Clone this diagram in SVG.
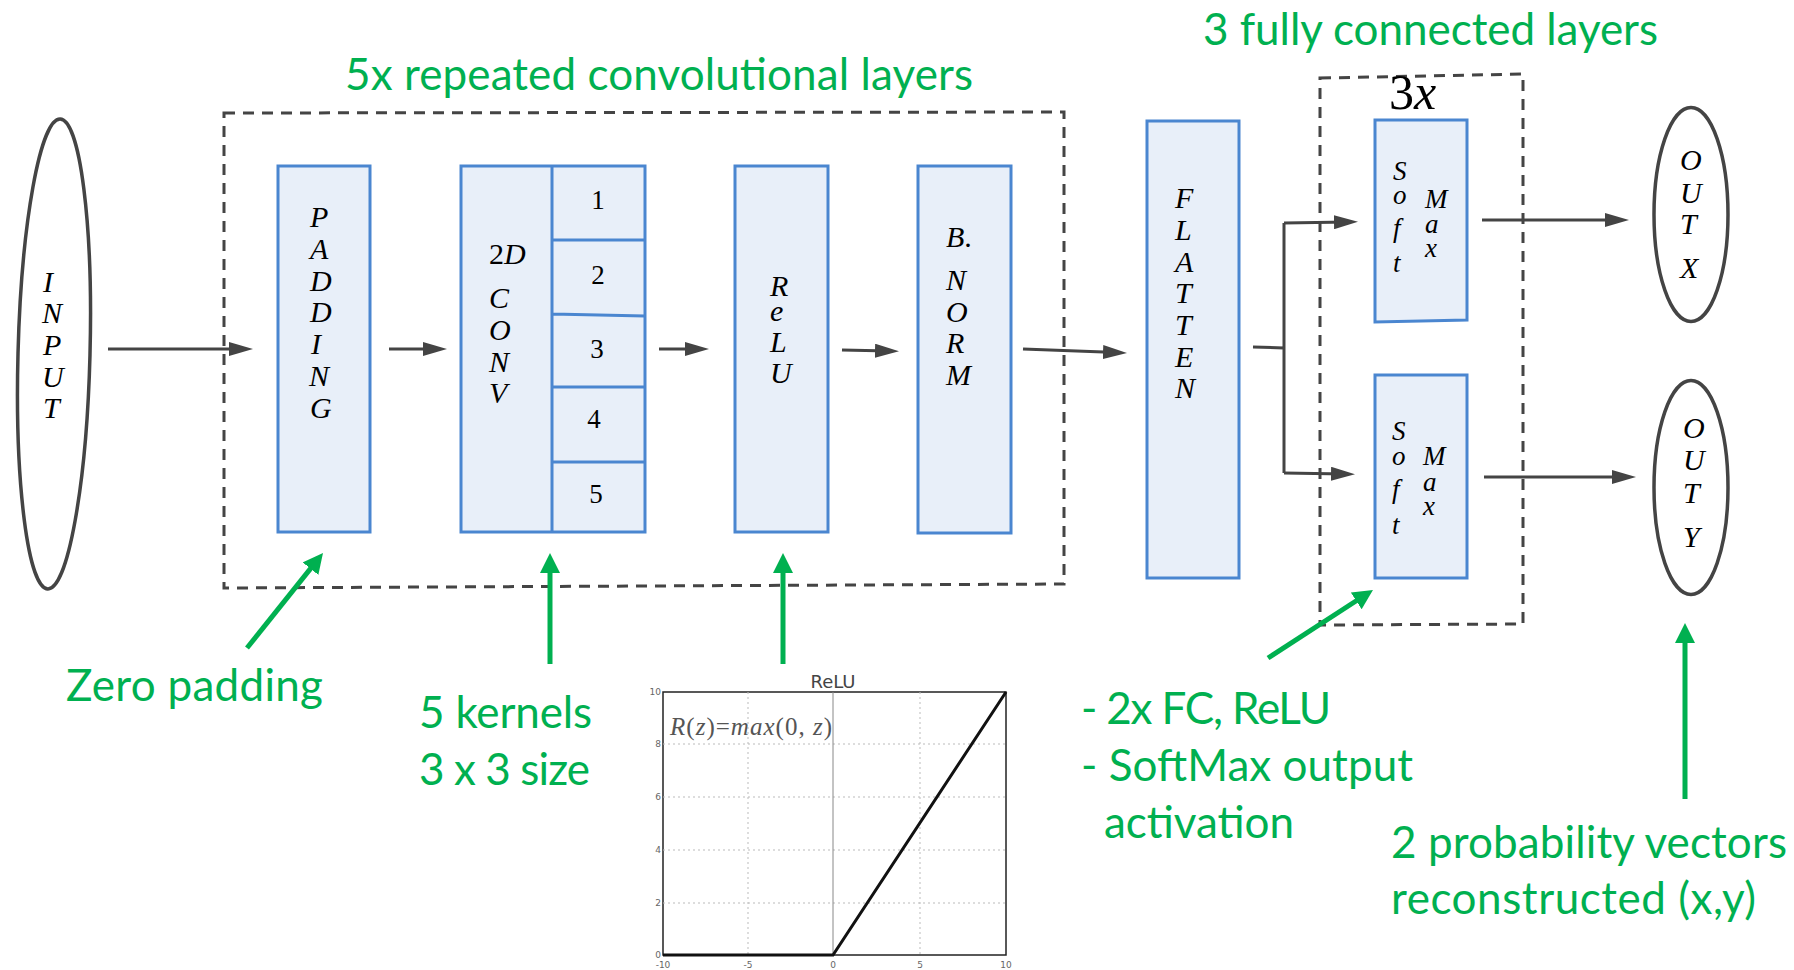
<svg xmlns="http://www.w3.org/2000/svg" width="1794" height="970" viewBox="0 0 1794 970">
<style>
.box{fill:#E8EFF9;stroke:#4A86D0;stroke-width:3}
.ell{fill:#fff;stroke:#444;stroke-width:3.5}
.lbl{font-family:"Liberation Serif","DejaVu Serif",serif;font-size:30px;font-style:italic;fill:#000}
.sm{font-size:27px}
.up{font-style:normal}
.note{font-family:Lato,"Liberation Sans",sans-serif;font-size:44px;fill:#00B050}
.conn{stroke:#444;stroke-width:3;fill:none}
.arr{marker-end:url(#ah)}
.g{stroke:#00B050;stroke-width:5;fill:none;marker-end:url(#gah)}
.dash{fill:none;stroke:#444;stroke-width:3;stroke-dasharray:11 8}
.grid{stroke:#bbb;stroke-width:1;stroke-dasharray:2 3}
.tick{font-family:"DejaVu Sans",sans-serif;font-size:9px;fill:#666}
</style>
<defs>
<marker id="ah" markerUnits="userSpaceOnUse" markerWidth="24" markerHeight="14" refX="14" refY="7" orient="auto">
<path d="M0,0 L24,7 L0,14 z" fill="#444"/>
</marker>
<marker id="gah" markerUnits="userSpaceOnUse" markerWidth="20" markerHeight="20" refX="8" refY="10" orient="auto">
<path d="M0,0 L20,10 L0,20 z" fill="#00B050"/>
</marker>
</defs>
<rect width="1794" height="970" fill="#fff"/>

<g id="group-conv">
<path class="dash" d="M224,113 L1064,112 L1064,584 L224,588 Z"/>
<text class="note" x="345" y="90" textLength="628">5x repeated convolutional layers</text>
</g>
<g id="group-fc">
<path class="dash" d="M1320,78 L1523,74 L1523,624 L1320,625 Z"/>
<text class="note" x="1203" y="45" textLength="455">3 fully connected layers</text>
<text class="lbl" x="1389" y="109" style="font-size:50px"><tspan class="up">3</tspan>x</text>
</g>

<g id="input">
<ellipse class="ell" cx="54" cy="354" rx="36" ry="235" transform="rotate(1.5 54 354)"/>
<text class="lbl"><tspan x="43" y="292">I</tspan><tspan x="42" y="323">N</tspan><tspan x="43" y="355">P</tspan><tspan x="42" y="387">U</tspan><tspan x="43" y="418">T</tspan></text>
</g>

<g id="padding">
<rect class="box" x="278" y="166" width="92" height="366"/>
<text class="lbl"><tspan x="310" y="227">P</tspan><tspan x="310" y="259">A</tspan><tspan x="310" y="291">D</tspan><tspan x="310" y="322">D</tspan><tspan x="311" y="354">I</tspan><tspan x="309" y="386">N</tspan><tspan x="310" y="418">G</tspan></text>
</g>

<g id="conv">
<rect class="box" x="461" y="166" width="184" height="366"/>
<path d="M552,166 L552,532 M552,240 L645,240 M552,314 L645,316 M552,387 L645,387 M552,462 L645,462" stroke="#4A86D0" stroke-width="3" fill="none"/>
<text class="lbl"><tspan x="489" y="264" class="up">2</tspan><tspan>D</tspan><tspan x="489" y="308">C</tspan><tspan x="489" y="340">O</tspan><tspan x="489" y="372">N</tspan><tspan x="489" y="403">V</tspan></text>
<text class="lbl up" text-anchor="middle" style="font-size:27px;font-style:normal"><tspan x="598" y="209">1</tspan><tspan x="598" y="284">2</tspan><tspan x="597" y="358">3</tspan><tspan x="594" y="428">4</tspan><tspan x="596" y="503">5</tspan></text>
</g>

<g id="relu">
<rect class="box" x="735" y="166" width="93" height="366"/>
<text class="lbl"><tspan x="770" y="296">R</tspan><tspan x="770" y="321">e</tspan><tspan x="770" y="352">L</tspan><tspan x="770" y="383">U</tspan></text>
</g>

<g id="bnorm">
<rect class="box" x="918" y="166" width="93" height="367"/>
<text class="lbl"><tspan x="946" y="247">B</tspan><tspan class="up">.</tspan><tspan x="946" y="290">N</tspan><tspan x="946" y="322">O</tspan><tspan x="946" y="353">R</tspan><tspan x="946" y="385">M</tspan></text>
</g>

<g id="flatten">
<rect class="box" x="1147" y="121" width="92" height="457"/>
<text class="lbl"><tspan x="1175" y="208">F</tspan><tspan x="1175" y="240">L</tspan><tspan x="1175" y="272">A</tspan><tspan x="1175" y="303">T</tspan><tspan x="1175" y="335">T</tspan><tspan x="1175" y="367">E</tspan><tspan x="1175" y="398">N</tspan></text>
</g>

<g id="softmax-x">
<path class="box" d="M1375,120 L1467,120 L1467,320 L1375,322 Z"/>
<text class="lbl sm"><tspan x="1393" y="180">S</tspan><tspan x="1393" y="204">o</tspan><tspan x="1393" y="237">f</tspan><tspan x="1393" y="272">t</tspan></text>
<text class="lbl sm"><tspan x="1425" y="208">M</tspan><tspan x="1425" y="233">a</tspan><tspan x="1425" y="257">x</tspan></text>
</g>

<g id="softmax-y">
<rect class="box" x="1375" y="375" width="92" height="203"/>
<text class="lbl sm"><tspan x="1392" y="440">S</tspan><tspan x="1392" y="465">o</tspan><tspan x="1392" y="498">f</tspan><tspan x="1392" y="534">t</tspan></text>
<text class="lbl sm"><tspan x="1423" y="465">M</tspan><tspan x="1423" y="491">a</tspan><tspan x="1423" y="515">x</tspan></text>
</g>

<g id="out-x">
<ellipse class="ell" cx="1691" cy="214.5" rx="37" ry="107"/>
<text class="lbl"><tspan x="1680" y="170">O</tspan><tspan x="1680" y="203">U</tspan><tspan x="1680" y="234">T</tspan><tspan x="1680" y="278">X</tspan></text>
</g>

<g id="out-y">
<ellipse class="ell" cx="1691" cy="487.5" rx="37" ry="107"/>
<text class="lbl"><tspan x="1683" y="438">O</tspan><tspan x="1683" y="470">U</tspan><tspan x="1683" y="503">T</tspan><tspan x="1683" y="547">Y</tspan></text>
</g>

<g id="connectors">
<path class="conn arr" d="M108,349 L243,349"/>
<path class="conn arr" d="M389,349 L437,349"/>
<path class="conn arr" d="M659,349 L699,349"/>
<path class="conn arr" d="M842,350 L889,351"/>
<path class="conn arr" d="M1023,349 L1117,352.6"/>
<path class="conn" d="M1253,347 L1284,348 M1284,223 L1284,473"/>
<path class="conn arr" d="M1284,223 L1348,222"/>
<path class="conn arr" d="M1284,473 L1345,474"/>
<path class="conn arr" d="M1482,220 L1619,220"/>
<path class="conn arr" d="M1484,477 L1626,477"/>
</g>

<g id="annotations">
<path class="g" d="M247,648 L315.5,562.4"/>
<path class="g" d="M550,664 L550,565"/>
<path class="g" d="M783,664 L783,565"/>
<path class="g" d="M1268,658 L1362.9,596.5"/>
<path class="g" d="M1685,799 L1685,635"/>
<text class="note" x="66" y="701" textLength="257">Zero padding</text>
<text class="note" x="419" y="728" textLength="173">5 kernels</text>
<text class="note" x="419" y="785" textLength="171">3 x 3 size</text>
<text class="note" x="1081" y="724" textLength="250">- 2x FC, ReLU</text>
<text class="note" x="1081" y="781" textLength="332">- SoftMax output</text>
<text class="note" x="1104" y="838" textLength="190">activation</text>
<text class="note" x="1391" y="858" textLength="396">2 probability vectors</text>
<text class="note" x="1391" y="914" textLength="365">reconstructed (x,y)</text>
</g>

<g id="relu-plot">
<rect x="663" y="692" width="343" height="263" fill="#fff" stroke="#222" stroke-width="1.5"/>
<path class="grid" d="M748,692 V955 M920,692 V955 M663,744 H1006 M663,797 H1006 M663,850 H1006 M663,903 H1006"/>
<path d="M833,692 V955" stroke="#888" stroke-width="1"/>
<path d="M663,955 L833,955 L1006,692" stroke="#111" stroke-width="3" fill="none"/>
<text x="833" y="688" text-anchor="middle" font-family="DejaVu Sans, sans-serif" font-size="18" fill="#444">ReLU</text>
<text x="670" y="735" font-family="Liberation Serif, serif" font-size="25" fill="#555" textLength="162"><tspan font-style="italic">R</tspan>(<tspan font-style="italic">z</tspan>)=<tspan font-style="italic">max</tspan>(0, <tspan font-style="italic">z</tspan>)</text>
<g class="tick" text-anchor="end">
<text x="661" y="695">10</text><text x="661" y="747">8</text><text x="661" y="800">6</text><text x="661" y="853">4</text><text x="661" y="906">2</text><text x="661" y="958">0</text>
</g>
<g class="tick" text-anchor="middle">
<text x="663" y="968">-10</text><text x="748" y="968">-5</text><text x="833" y="968">0</text><text x="920" y="968">5</text><text x="1006" y="968">10</text>
</g>
</g>
</svg>
